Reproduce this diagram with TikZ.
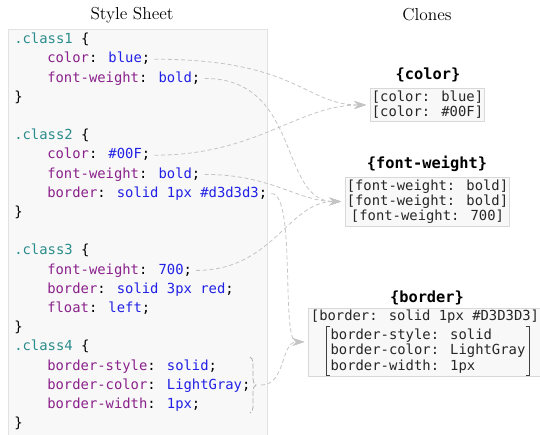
\documentclass[tikz,border=0pt]{standalone}
\usepackage{fontspec}
\newfontfamily\codefont{DejaVu Sans Mono}
\usetikzlibrary{arrows.meta,decorations.pathreplacing,fit,backgrounds}
\definecolor{clscol}{HTML}{2A8C8C}
\definecolor{prpcol}{HTML}{8B218B}
\definecolor{valcol}{HTML}{2020E6}
\definecolor{sheetfill}{HTML}{F8F8F8}
\definecolor{sheetline}{HTML}{E2E2E2}
\definecolor{boxline}{HTML}{D8D8D8}
\definecolor{linkcol}{HTML}{C4C4C4}
\newcommand{\cls}[1]{\textcolor{clscol}{#1}}
\newcommand{\prp}[1]{\textcolor{prpcol}{#1}}
\newcommand{\val}[1]{\textcolor{valcol}{#1}}
\begin{document}
\begin{tikzpicture}[x=0.75pt,y=-0.75pt,
  codeline/.style={anchor=west, inner xsep=3pt, inner ysep=0pt, text height=8pt, text depth=2.5pt,
    font=\codefont\fontsize{10.4}{12}\selectfont},
  title/.style={font=\fontsize{13}{15}\selectfont},
  clonehead/.style={font=\codefont\bfseries\fontsize{11.5}{13}\selectfont},
  clonebox/.style={draw=boxline, fill=sheetfill, inner xsep=1pt, inner ysep=2pt,
    font=\codefont\fontsize{10.4}{11.4}\selectfont, text=black!85},
  clonetext/.style={inner sep=1pt, font=\codefont\fontsize{10.4}{11.4}\selectfont, text=black!85},
  link/.style={draw=linkcol, line width=0.6pt, dash pattern=on 3pt off 2pt,
    -{Stealth[length=9pt,width=6pt,inset=3pt,fill=linkcol,line width=0.4pt]}, shorten >=3pt},
  bracketline/.style={draw=black!75, line width=0.6pt},
  bracestyle/.style={draw=linkcol!90!black, line width=0.6pt, dash pattern=on 4pt off 1.5pt,
    decorate, decoration={brace, amplitude=4.5pt}}
]
\useasboundingbox (0,0) rectangle (540,435);
% style sheet panel
\fill[sheetfill] (8,29) rectangle (267,440);
\draw[sheetline, line width=0.6pt] (8,440) -- (8,29) -- (267,29) -- (267,440);
\node[title] (t1) at (132,15) {Style Sheet};
\node[title] (t2) at (427,15) {Clones};
% code lines
\node[codeline] (k0) at (10,40) {\cls{.class1} \{};
\node[codeline] (k1) at (43,59.2) {\prp{color}: \val{blue};};
\node[codeline] (k2) at (43,78.4) {\prp{font-weight}: \val{bold};};
\node[codeline] (k3) at (10,97.6) {\}};
\node[codeline] (k5) at (10,136) {\cls{.class2} \{};
\node[codeline] (k6) at (43,155.2) {\prp{color}: \val{\#00F};};
\node[codeline] (k7) at (43,174.4) {\prp{font-weight}: \val{bold};};
\node[codeline] (k8) at (43,193.6) {\prp{border}: \val{solid 1px \#d3d3d3};};
\node[codeline] (k9) at (10,212.8) {\}};
\node[codeline] (k11) at (10,251.2) {\cls{.class3} \{};
\node[codeline] (k12) at (43,270.4) {\prp{font-weight}: \val{700};};
\node[codeline] (k13) at (43,289.6) {\prp{border}: \val{solid 3px red};};
\node[codeline] (k14) at (43,308.8) {\prp{float}: \val{left};};
\node[codeline] (k15) at (10,328) {\}};
\node[codeline] (k16) at (10,347.2) {\cls{.class4} \{};
\node[codeline] (k17) at (43,366.4) {\prp{border-style}: \val{solid};};
\node[codeline] (k18) at (43,385.6) {\prp{border-color}: \val{LightGray};};
\node[codeline] (k19) at (43,404.8) {\prp{border-width}: \val{1px};};
\node[codeline] (k20) at (10,424) {\}};
\draw[bracestyle] (250,357) -- (250,413);
\coordinate (bracetip) at (261,385);
% clones
\node[clonehead] (hcolor) at (428,75) {\{color\}};
\node[clonebox, align=left] (colorbox) at (427.5,105) {[color: blue]\\[0pt][color: \#00F]};
\node[clonehead] (hfw) at (427,164) {\{font-weight\}};
\node[clonebox, align=center] (fwbox) at (427.5,201.5) {[font-weight: bold]\\[0pt][font-weight: bold]\\[0pt][font-weight: 700]};
\node[clonehead] (hborder) at (427,298) {\{border\}};
\node[clonetext] (bline) at (425,317) {[border: solid 1px \#D3D3D3]};
\node[clonetext, align=left, inner xsep=3pt, inner ysep=1.5pt] (bgroup) at (428,351) {border-style: solid\\[0pt]border-color: LightGray\\[0pt]border-width: 1px};
\begin{scope}[on background layer]
\node[draw=boxline, fill=sheetfill, inner sep=0.5pt, fit=(bline)(bgroup)] (borderbox) {};
\end{scope}
\draw[bracketline] ([xshift=3pt]bgroup.north west) -- (bgroup.north west) -- (bgroup.south west) -- ([xshift=3pt]bgroup.south west);
\draw[bracketline] ([xshift=-3pt]bgroup.north east) -- (bgroup.north east) -- (bgroup.south east) -- ([xshift=-3pt]bgroup.south east);
% links
\draw[link] (k1.east) to[out=0,in=180,out distance=107pt,in distance=49pt] (colorbox.west);
\draw[link] (k6.east) to[out=0,in=180,out distance=77pt,in distance=54pt] (colorbox.west);
\draw[link] (k2.east) to[out=0,in=180,out distance=73pt,in distance=50pt] (fwbox.west);
\draw[link] (k7.east) to[out=0,in=180,out distance=50pt,in distance=35pt] (fwbox.west);
\draw[link] (k12.east) to[out=0,in=180,out distance=58pt,in distance=43pt] (fwbox.west);
\draw[link] (k8.east) to[out=0,in=180,out distance=19pt,in distance=21pt] (borderbox.west);
\draw[link] (bracetip) to[out=0,in=180,out distance=19pt,in distance=21pt] (borderbox.west);
\end{tikzpicture}
\end{document}
